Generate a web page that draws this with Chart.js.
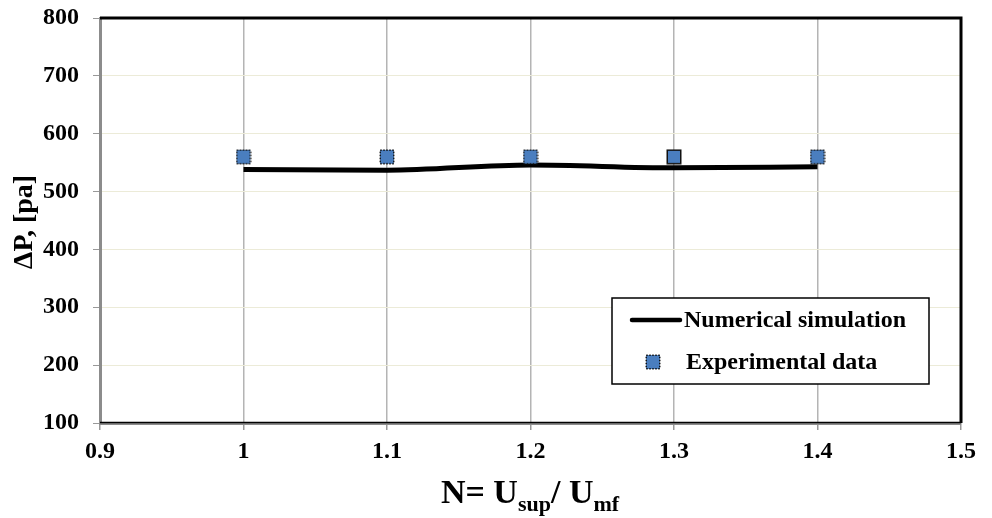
<!DOCTYPE html>
<html>
<head>
<meta charset="utf-8">
<script src="https://cdn.jsdelivr.net/npm/chart.js@4"></script>
<style>
  html, body { margin: 0; padding: 0; background: #fff; }
  #wrap { width: 992px; height: 518px; }
</style>
</head>
<body>
<div id="wrap"><canvas id="c" width="992" height="518"></canvas></div>
<script>
// Velocity ratio N = Usup / Umf
const ratios = [1.0, 1.1, 1.2, 1.3, 1.4];
// Pressure drop, Pa
const simulated = [538, 537, 546, 541, 543];
const measured = [560, 560, 560, 560, 560];
const seriesNames = ['Numerical simulation', 'Experimental data'];
const xTicks = [0.9, 1, 1.1, 1.2, 1.3, 1.4, 1.5];
const yTicks = [100, 200, 300, 400, 500, 600, 700, 800];

const SERIF = '"Liberation Serif", "Times New Roman", serif';
const MARK_FILL = '#4a7ebf';
const MARK_EDGE = '#111';

// Square marker sprite; dotted or solid outline
function squareMarker(dotted) {
  const s = 16;
  const cv = document.createElement('canvas');
  cv.width = s; cv.height = s;
  const g = cv.getContext('2d');
  g.fillStyle = MARK_FILL;
  g.fillRect(1, 1, s - 2, s - 2);
  g.strokeStyle = MARK_EDGE;
  g.lineWidth = 1.5;
  if (dotted) g.setLineDash([1.5, 1.5]);
  g.strokeRect(1.25, 1.25, s - 2.5, s - 2.5);
  return cv;
}
const dottedSq = squareMarker(true);
const solidSq = squareMarker(false);
const markerStyles = [dottedSq, dottedSq, dottedSq, solidSq, dottedSq];

// Frame, axis titles and boxed legend
const decor = {
  id: 'decor',
  afterDraw(chart) {
    const { ctx, chartArea: a } = chart;
    ctx.save();
    // heavy top/right frame, thin dark bottom edge
    ctx.strokeStyle = '#000';
    ctx.lineWidth = 3;
    ctx.beginPath();
    ctx.moveTo(a.left, a.top);
    ctx.lineTo(a.right, a.top);
    ctx.lineTo(a.right, a.bottom);
    ctx.stroke();
    ctx.lineWidth = 1.5;
    ctx.beginPath();
    ctx.moveTo(a.left, a.bottom - 0.5);
    ctx.lineTo(a.right, a.bottom - 0.5);
    ctx.stroke();

    // y title
    ctx.fillStyle = '#000';
    ctx.font = 'bold 28px ' + SERIF;
    ctx.textAlign = 'center';
    ctx.textBaseline = 'middle';
    ctx.translate(25, 222);
    ctx.rotate(-Math.PI / 2);
    ctx.fillText('\u0394P, [pa]', 0, 0);
    ctx.setTransform(1, 0, 0, 1, 0, 0);

    // x title with subscripts
    const parts = [
      ['N= U', 34, 0], ['sup', 22, 8], ['/ U', 34, 0], ['mf', 22, 8]
    ];
    let total = 0;
    parts.forEach(p => { ctx.font = 'bold ' + p[1] + 'px ' + SERIF; total += ctx.measureText(p[0]).width; });
    let x = 530 - total / 2;
    const base = 503;
    ctx.textAlign = 'left';
    ctx.textBaseline = 'alphabetic';
    parts.forEach(p => {
      ctx.font = 'bold ' + p[1] + 'px ' + SERIF;
      ctx.fillText(p[0], x, base + p[2]);
      x += ctx.measureText(p[0]).width;
    });

    // legend box
    const bx = 612, by = 298, bw = 317, bh = 86;
    ctx.fillStyle = '#fff';
    ctx.fillRect(bx, by, bw, bh);
    ctx.strokeStyle = '#000';
    ctx.lineWidth = 1.5;
    ctx.strokeRect(bx, by, bw, bh);
    const ds0 = chart.data.datasets[0];
    ctx.strokeStyle = ds0.borderColor;
    ctx.lineWidth = 4.5;
    ctx.lineCap = 'round';
    ctx.beginPath();
    ctx.moveTo(632, 320);
    ctx.lineTo(680, 320);
    ctx.stroke();
    ctx.drawImage(dottedSq, 645, 354);
    ctx.fillStyle = '#000';
    ctx.font = 'bold 24px ' + SERIF;
    ctx.textBaseline = 'middle';
    ctx.fillText(ds0.label, 684, 321);
    ctx.fillText(chart.data.datasets[1].label, 686, 363);
    ctx.restore();
  }
};

new Chart(document.getElementById('c'), {
  type: 'scatter',
  data: {
    datasets: [
      {
        label: seriesNames[0],
        type: 'line',
        data: ratios.map((r, i) => ({ x: r, y: simulated[i] })),
        borderColor: '#000',
        borderWidth: 5,
        pointRadius: 0,
        cubicInterpolationMode: 'monotone',
        fill: false,
        order: 2
      },
      {
        label: seriesNames[1],
        data: ratios.map((r, i) => ({ x: r, y: measured[i] })),
        pointStyle: markerStyles,
        pointRadius: 8,
        order: 1
      }
    ]
  },
  options: {
    responsive: false,
    animation: false,
    devicePixelRatio: 1,
    layout: { padding: { top: 18, right: 31, left: 0, bottom: 0 } },
    plugins: { legend: { display: false }, tooltip: { enabled: false } },
    scales: {
      x: {
        type: 'linear',
        min: 0.9,
        max: 1.5,
        afterBuildTicks: s => { s.ticks = xTicks.map(v => ({ value: v })); },
        afterFit: s => { s.height = 95; s.paddingLeft = 0; s.paddingRight = 0; },
        grid: { color: '#b4b4b4', lineWidth: 1.5, tickLength: 7, tickColor: '#999' },
        border: { color: '#8c8c8c', width: 3 },
        ticks: {
          padding: 7,
          color: '#000',
          font: { family: SERIF, size: 24, weight: 'bold' },
          callback: v => String(v)
        }
      },
      y: {
        min: 100,
        max: 800,
        afterBuildTicks: s => { s.ticks = yTicks.map(v => ({ value: v })); },
        afterFit: s => { s.width = 100; s.paddingTop = 0; s.paddingBottom = 0; },
        grid: { color: '#ecebd8', lineWidth: 1, tickLength: 7, tickColor: '#999' },
        border: { color: '#8c8c8c', width: 3 },
        ticks: {
          padding: 14,
          color: '#000',
          font: { family: SERIF, size: 24, weight: 'bold' }
        }
      }
    }
  },
  plugins: [decor]
});
</script>
</body>
</html>
